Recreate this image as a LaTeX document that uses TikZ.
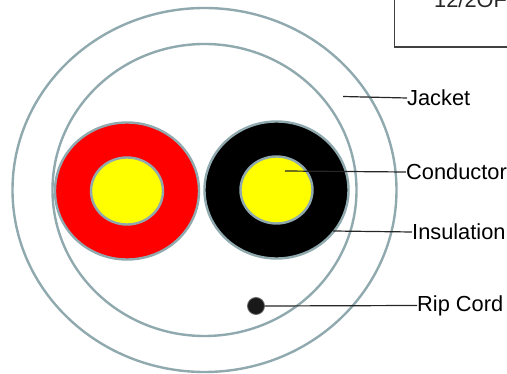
\documentclass[tikz,border=0pt]{standalone}
\usepackage{fontspec}
\setmainfont{Liberation Sans}
\usetikzlibrary{shapes.geometric}
\definecolor{ringgray}{HTML}{8FA9AE}
\definecolor{wirered}{HTML}{FF0000}
\definecolor{wireyellow}{HTML}{FFFF00}
\tikzset{
  ring/.style={ellipse,draw=ringgray,line width=2.4pt,inner sep=0pt},
  callout/.style={anchor=west,inner sep=0pt,font=\fontsize{21.8}{24}\selectfont},
  leader/.style={draw=black!85,line width=1.2pt}
}
\begin{document}
\begin{tikzpicture}[x=1pt,y=-1pt]
\useasboundingbox (0,0) rectangle (507,374);
\begin{scope}
\clip (0,0) rectangle (507,374);
\draw[black!75,line width=1.2pt] (394.5,-20)--(394.5,47)--(530,47);
\node[anchor=base west,inner sep=0pt,font=\fontsize{21.8}{24}\selectfont,text=black!85] (cablename) at (434,8) {12/2OFC};
\end{scope}
% cable rings
\node[ring,minimum width=384pt,minimum height=364pt] (jacketouter) at (204.5,190) {};
\node[ring,minimum width=304pt,minimum height=292pt] (jacketinner) at (204.5,190) {};
% insulated conductors
\node[ring,fill=wirered,minimum width=144pt,minimum height=137pt] (insleft) at (127,191) {};
\node[ring,fill=wireyellow,minimum width=72pt,minimum height=67pt] (condleft) at (127,191) {};
\node[ring,fill=black,minimum width=144pt,minimum height=137pt] (insright) at (276.5,190) {};
\node[ring,fill=wireyellow,minimum width=72pt,minimum height=67pt] (condright) at (276.5,190) {};
\node[circle,fill=black!90,draw=black!60,line width=.8pt,minimum size=17pt,inner sep=0pt] (ripcord) at (256,306) {};
% labels
\node[callout] (jacket) at (407,98) {Jacket};
\node[callout] (conductor) at (406,172) {Conductor};
\node[callout] (insulation) at (412,232) {Insulation};
\node[callout] (riplabel) at (417,305.5) {Rip Cord};
\coordinate (jacketend) at (343,96.5);
\coordinate (condend) at (285,171);
\coordinate (insend) at (333,231);
\draw[leader] (jacketend) -- (jacket.west);
\draw[leader] (condend) -- (conductor.west);
\draw[leader] (insend) -- (insulation.west);
\draw[leader] (ripcord.east) -- (riplabel.west);
\end{tikzpicture}
\end{document}
